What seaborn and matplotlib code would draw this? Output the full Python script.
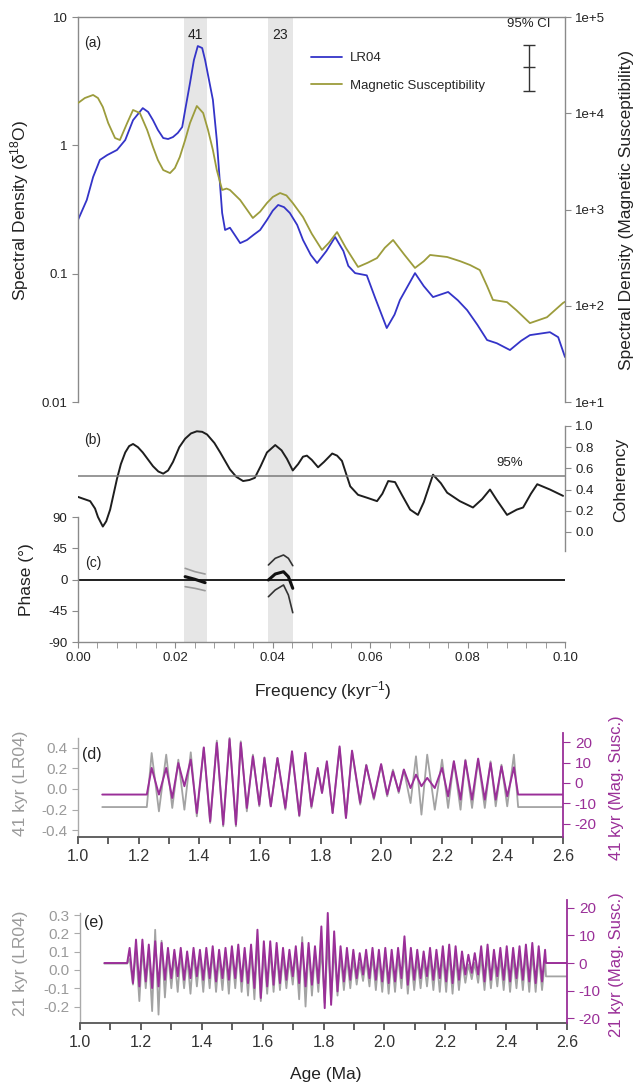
import matplotlib
matplotlib.use("Agg")
import matplotlib.pyplot as plt
from matplotlib.ticker import NullLocator, FixedLocator
import seaborn as sns

sns.set_style("ticks")
plt.rcParams["font.family"] = ["Liberation Sans", "DejaVu Sans"]
plt.rcParams["mathtext.fontset"] = "custom"
plt.rcParams["mathtext.rm"] = "Liberation Sans"
plt.rcParams["mathtext.it"] = "Liberation Sans:italic"
plt.rcParams["mathtext.bf"] = "Liberation Sans:bold"

# ---------------- data: panel (a) spectra ----------------
freq_lr = [0, 0.0018, 0.0031, 0.0045, 0.006, 0.008, 0.0097, 0.0113, 0.0133, 0.0144,
           0.0154, 0.0164, 0.0175, 0.0185, 0.0195, 0.0205, 0.0214, 0.022, 0.023, 0.0238,
           0.0246, 0.0255, 0.0261, 0.0269, 0.0277, 0.0285, 0.0292, 0.0296, 0.0302, 0.0312,
           0.0322, 0.0333, 0.0347, 0.036, 0.0374, 0.0388, 0.040, 0.0411, 0.0423, 0.0435,
           0.045, 0.0462, 0.0478, 0.0491, 0.051, 0.0528, 0.0545, 0.0555, 0.0569, 0.0593,
           0.061, 0.0634, 0.065, 0.0661, 0.0692, 0.071, 0.0729, 0.076, 0.078, 0.0799,
           0.082, 0.084, 0.086, 0.0887, 0.091, 0.0928, 0.0969, 0.0986, 0.1]
psd_lr = [0.262, 0.375, 0.566, 0.77, 0.84, 0.92, 1.10, 1.57, 1.95, 1.82,
          1.57, 1.32, 1.14, 1.12, 1.16, 1.25, 1.39, 1.88, 3.06, 4.62,
          5.94, 5.73, 4.62, 3.23, 2.26, 1.10, 0.473, 0.297, 0.219, 0.228,
          0.20, 0.173, 0.183, 0.20, 0.219, 0.262, 0.31, 0.343, 0.33, 0.297,
          0.24, 0.183, 0.14, 0.121, 0.15, 0.193, 0.15, 0.115, 0.101, 0.097,
          0.065, 0.0377, 0.048, 0.0622, 0.101, 0.08, 0.0657, 0.072, 0.062, 0.052,
          0.04, 0.0304, 0.0287, 0.0254, 0.03, 0.0332, 0.035, 0.032, 0.0224]
freq_ms = [0, 0.0014, 0.0031, 0.0041, 0.0051, 0.0062, 0.0076, 0.0086, 0.0101, 0.0113,
           0.0127, 0.0142, 0.0154, 0.0164, 0.0175, 0.0189, 0.0199, 0.0209, 0.022, 0.023,
           0.0244, 0.0257, 0.0267, 0.0277, 0.0285, 0.0296, 0.0305, 0.0312, 0.0333, 0.0359,
           0.0374, 0.0388, 0.040, 0.0415, 0.0428, 0.0441, 0.0462, 0.048, 0.0501, 0.0515,
           0.0532, 0.055, 0.0575, 0.0595, 0.0614, 0.063, 0.0647, 0.067, 0.0692, 0.071,
           0.0723, 0.0758, 0.0785, 0.0805, 0.0825, 0.084, 0.0852, 0.0881, 0.090, 0.0928,
           0.0963, 0.0996, 0.1]
psd_ms = [12760, 14390, 15490, 14390, 11610, 7920, 5530, 5270, 7920, 10810,
          10060, 6700, 4460, 3270, 2570, 2390, 2700, 3510, 5270, 7920,
          11890, 10060, 6700, 4150, 2570, 1595, 1650, 1595, 1255, 816,
          950, 1168, 1350, 1483, 1400, 1168, 836, 560, 380, 450,
          583, 400, 253, 280, 313, 400, 482, 340, 247, 290,
          337, 321, 290, 265, 235, 160, 115, 109, 90, 66,
          76, 107, 110]
ci_freq = [0.0926]
ci_mid = [4.07]
ci_low = [2.65]
ci_high = [6.05]
bands = [(0.0218, 0.0265), (0.039, 0.0441)]
band_labels = ["41", "23"]

# ---------------- data: panel (b) coherency ----------------
freq_coh = [0, 0.0025, 0.0035, 0.0041, 0.0051, 0.0058, 0.0066, 0.008, 0.0088, 0.0097,
            0.0105, 0.0113, 0.0123, 0.0133, 0.0154, 0.0165, 0.0175, 0.0185, 0.0195, 0.0208,
            0.022, 0.0232, 0.0244, 0.0255, 0.0265, 0.028, 0.0292, 0.0312, 0.0325, 0.0339,
            0.0352, 0.0363, 0.0375, 0.0388, 0.0405, 0.0418, 0.0429, 0.0441, 0.0452, 0.0462,
            0.047, 0.048, 0.0493, 0.0505, 0.0522, 0.0532, 0.0542, 0.0559, 0.0575, 0.0595,
            0.0614, 0.0625, 0.0637, 0.0651, 0.0665, 0.0682, 0.0698, 0.071, 0.0729, 0.0745,
            0.0758, 0.0784, 0.0811, 0.083, 0.0846, 0.086, 0.0881, 0.0901, 0.0914, 0.093,
            0.0943, 0.0969, 0.0996]
coh = [0.33, 0.29, 0.22, 0.14, 0.05, 0.10, 0.21, 0.50, 0.64, 0.75,
       0.81, 0.83, 0.80, 0.75, 0.62, 0.57, 0.55, 0.58, 0.66, 0.80,
       0.88, 0.93, 0.95, 0.945, 0.92, 0.84, 0.75, 0.59, 0.52, 0.48,
       0.49, 0.51, 0.62, 0.75, 0.82, 0.77, 0.69, 0.58, 0.64, 0.71,
       0.72, 0.68, 0.61, 0.66, 0.74, 0.72, 0.67, 0.43, 0.35, 0.32,
       0.29, 0.36, 0.48, 0.47, 0.35, 0.21, 0.16, 0.28, 0.54, 0.46,
       0.37, 0.29, 0.23, 0.31, 0.40, 0.30, 0.16, 0.21, 0.23, 0.36,
       0.45, 0.40, 0.34]
coh_95 = 0.53

# ---------------- data: panel (c) phase ----------------
ph41_freq = [0.022, 0.024, 0.0261]
ph41_mid = [4.1, 0.3, -4.6]
ph41_up = [16.1, 11.3, 7.9]
ph41_lo = [-10.3, -12.7, -16.1]
ph23_freq = [0.0391, 0.0405, 0.0422, 0.0432, 0.0441]
ph23_mid = [-0.7, 7.9, 11.2, 4.0, -12.7]
ph23_up = [20.9, 30.5, 35.3, 30.5, 19.9]
ph23_lo = [-24.8, -15.1, -7.9, -22.3, -47.8]

# ---------------- data: panel (d) 41 kyr filters ----------------
age_d = [1.08, 1.227,
         1.243, 1.267, 1.291, 1.311, 1.331, 1.351, 1.372, 1.392, 1.415, 1.436,
         1.458, 1.479, 1.500, 1.521, 1.537, 1.557, 1.577, 1.598, 1.615, 1.636,
         1.658, 1.684, 1.706, 1.730, 1.750, 1.770, 1.791, 1.805, 1.821, 1.840,
         1.863, 1.884, 1.904, 1.931, 1.951, 1.976, 2.000, 2.020, 2.039, 2.058,
         2.075, 2.097, 2.115, 2.133, 2.152, 2.177, 2.201, 2.221, 2.240, 2.262,
         2.278, 2.300, 2.320, 2.342, 2.361, 2.378, 2.397, 2.416, 2.438,
         2.452, 2.60]
lr_d = [-0.176, -0.176,
        0.351, -0.218, 0.335, -0.185, 0.286, -0.202, 0.358, -0.267, 0.40, -0.332,
        0.472, -0.364, 0.498, -0.364, 0.465, -0.218, 0.335, -0.169, 0.309, -0.169,
        0.302, -0.202, 0.351, -0.267, 0.335, -0.185, 0.189, -0.039, 0.254, -0.234,
        0.40, -0.283, 0.367, -0.153, 0.237, -0.104, 0.237, -0.072, 0.189, -0.039,
        0.189, -0.137, 0.319, -0.25, 0.335, -0.202, 0.286, -0.185, 0.27, -0.202,
        0.286, -0.185, 0.286, -0.185, 0.27, -0.169, 0.237, -0.169, 0.335,
        -0.176, -0.176]
ms_d = [-5.7, -5.7,
        7.4, -5.7, 7.4, -7.4, 9.8, -1.6, 11.5, -14.8, 17.5, -18.9,
        19.7, -20.5, 21.6, -20.5, 19.7, -12.3, 13.1, -10.7, 12.3, -11.5,
        12.3, -12.3, 15.6, -15.9, 14.8, -11.5, 7.4, -4.9, 10.7, -14.8,
        18.0, -17.2, 15.9, -9.8, 8.7, -7.4, 9.3, -5.7, 5.7, -4.1,
        6.6, -2.5, 4.1, -1.6, 2.5, -2.5, 7.4, -6.6, 10.7, -8.2,
        11.0, -8.2, 12.0, -8.2, 9.8, -8.2, 8.2, -6.6, 7.7,
        -5.7, -5.7]

# ---------------- data: panel (e) 21 kyr filters ----------------
age_e = [1.08, 1.155,
         1.163, 1.174, 1.184, 1.195, 1.205, 1.216, 1.226, 1.237, 1.247, 1.258,
         1.268, 1.279, 1.289, 1.300, 1.310, 1.321, 1.331, 1.342, 1.352, 1.363,
         1.373, 1.384, 1.394, 1.405, 1.415, 1.426, 1.436, 1.447, 1.457, 1.468,
         1.478, 1.489, 1.499, 1.510, 1.520, 1.531, 1.541, 1.552, 1.562, 1.573,
         1.583, 1.594, 1.604, 1.615, 1.625, 1.636, 1.646, 1.657, 1.667, 1.678,
         1.688, 1.699, 1.709, 1.720, 1.730, 1.741, 1.751, 1.762, 1.772, 1.783,
         1.793, 1.804, 1.814, 1.825, 1.835, 1.846, 1.856, 1.867, 1.877, 1.888,
         1.898, 1.909, 1.919, 1.930, 1.940, 1.951, 1.961, 1.972, 1.982, 1.993,
         2.003, 2.014, 2.024, 2.035, 2.045, 2.056, 2.066, 2.077, 2.087, 2.098,
         2.108, 2.119, 2.129, 2.140, 2.150, 2.161, 2.171, 2.182, 2.192, 2.203,
         2.213, 2.224, 2.234, 2.245, 2.255, 2.266, 2.276, 2.287, 2.297, 2.308,
         2.318, 2.329, 2.339, 2.350, 2.360, 2.371, 2.381, 2.392, 2.402, 2.413,
         2.423, 2.434, 2.444, 2.455, 2.465, 2.476, 2.486, 2.497, 2.507, 2.518,
         2.528, 2.531, 2.60]
lr_e = [0.035, 0.035,
        0.06, -0.08, 0.11, -0.17, 0.12, -0.10, 0.10, -0.225, 0.22, -0.244,
        0.16, -0.15, 0.10, -0.10, 0.08, -0.12, 0.09, -0.10, 0.07, -0.13,
        0.09, -0.09, 0.08, -0.12, 0.09, -0.10, 0.10, -0.12, 0.07, -0.11,
        0.09, -0.13, 0.10, -0.10, 0.11, -0.12, 0.09, -0.14, 0.11, -0.16,
        0.15, -0.17, 0.10, -0.13, 0.11, -0.12, 0.10, -0.11, 0.08, -0.10,
        0.06, -0.08, 0.10, -0.16, 0.18, -0.20, 0.12, -0.14, 0.09, -0.12,
        0.12, -0.18, 0.16, -0.17, 0.12, -0.14, 0.08, -0.11, 0.07, -0.10,
        0.06, -0.08, 0.04, -0.06, 0.06, -0.09, 0.08, -0.11, 0.07, -0.12,
        0.08, -0.13, 0.07, -0.12, 0.08, -0.10, 0.11, -0.13, 0.07, -0.11,
        0.06, -0.10, 0.06, -0.09, 0.07, -0.11, 0.07, -0.12, 0.08, -0.12,
        0.09, -0.13, 0.08, -0.11, 0.05, -0.07, 0.03, -0.05, 0.04, -0.07,
        0.07, -0.11, 0.08, -0.10, 0.06, -0.09, 0.07, -0.11, 0.08, -0.12,
        0.07, -0.10, 0.08, -0.11, 0.09, -0.12, 0.09, -0.12, 0.08, -0.11,
        0.06, -0.035, -0.035]
ms_e = [0.0, 0.0,
        5.5, -7.3, 8.5, -8.5, 8.5, -6.7, 6.7, -9.1, 7.9, -8.5,
        7.3, -6.1, 5.5, -5.5, 4.8, -4.8, 5.5, -6.1, 4.2, -5.5,
        5.5, -4.8, 4.8, -6.1, 5.5, -5.5, 6.1, -6.7, 4.8, -5.5,
        5.5, -6.1, 6.1, -5.5, 6.7, -6.7, 5.5, -7.3, 6.7, -9.1,
        12.1, -12.7, 7.9, -8.5, 7.9, -7.9, 7.3, -7.3, 5.5, -6.1,
        4.8, -4.8, 6.1, -7.3, 7.3, -8.5, 7.3, -7.9, 6.1, -7.3,
        13.3, -16.4, 18.2, -15.2, 11.5, -10.3, 6.1, -6.7, 5.5, -6.1,
        4.8, -5.5, 3.6, -4.2, 4.8, -5.5, 5.5, -6.1, 4.8, -6.7,
        5.5, -7.3, 4.8, -6.7, 5.5, -5.5, 9.7, -7.9, 5.5, -6.1,
        4.8, -5.5, 4.2, -4.8, 5.5, -6.1, 4.8, -5.5, 6.1, -6.7,
        6.7, -7.3, 6.1, -6.1, 4.2, -4.2, 3.0, -3.6, 3.6, -4.2,
        6.1, -6.7, 6.7, -6.1, 4.8, -4.8, 5.5, -6.1, 6.1, -6.7,
        5.5, -5.5, 6.1, -6.1, 6.7, -6.7, 7.3, -7.3, 6.1, -6.7,
        4.8, 0.0, 0.0]

# ---------------- styling ----------------
BLUE = "#3434c8"
OLIVE = "#9c9c3c"
PURPLE = "#9a2f98"
GREYLINE = "#a3a3a3"
BAND = "#e6e6e6"
AXC = "#8a8a8a"
TXT = "#222222"
W, H = 636, 1086


def rect(x0, y0, x1, y1):
    return [x0 / W, 1 - y1 / H, (x1 - x0) / W, (y1 - y0) / H]


def ftext(x, y, s, **kw):
    kw.setdefault("ha", "center")
    kw.setdefault("va", "center")
    kw.setdefault("color", TXT)
    fig.text(x / W, 1 - y / H, s, **kw)


def only_spines(ax, keep, color=AXC):
    for k, sp in ax.spines.items():
        sp.set_visible(k in keep)
        sp.set_color(color)
        sp.set_linewidth(1.0)


fig = plt.figure(figsize=(W / 100, H / 100), dpi=100)
fig.patch.set_facecolor("white")

# shaded bands spanning panels a-c
bg = fig.add_axes(rect(78, 17, 565, 642))
bg.set_xlim(0, 0.1)
bg.set_ylim(0, 1)
bg.axis("off")
for lo, hi in bands:
    bg.axvspan(lo, hi, color=BAND, lw=0)

# ---------------- panel (a) ----------------
axa = fig.add_axes(rect(78, 17, 565, 402), facecolor="none")
sns.lineplot(x=freq_lr, y=psd_lr, ax=axa, color=BLUE, lw=1.3)
axa.set_yscale("log")
axa.set_xlim(0, 0.1)
axa.set_ylim(0.01, 10)
axa.set_yticks([0.01, 0.1, 1, 10])
axa.set_yticklabels(["0.01", "0.1", "1", "10"])
axa.yaxis.set_minor_locator(NullLocator())
axa.tick_params(axis="x", bottom=False, labelbottom=False)
axa.tick_params(axis="y", direction="out", length=4, color=AXC, labelsize=9.5, labelcolor=TXT)
only_spines(axa, ["left", "top"])
axa.set_xlabel("")
axa.set_ylabel("")

axa2 = axa.twinx()
sns.lineplot(x=freq_ms, y=psd_ms, ax=axa2, color=OLIVE, lw=1.3)
axa2.set_yscale("log")
axa2.set_ylim(10, 1e5)
axa2.set_yticks([10, 100, 1000, 1e4, 1e5])
axa2.set_yticklabels(["1e+1", "1e+2", "1e+3", "1e+4", "1e+5"])
axa2.yaxis.set_minor_locator(NullLocator())
axa2.tick_params(axis="y", direction="out", length=4, color=AXC, labelsize=9.5, labelcolor=TXT)
only_spines(axa2, ["right"])
axa2.set_ylabel("")

axa.errorbar(ci_freq, ci_mid,
             yerr=[[ci_mid[0] - ci_low[0]], [ci_high[0] - ci_mid[0]]],
             fmt="_", color="#333333", ms=8, capsize=4, elinewidth=1, capthick=1)
axa.text(ci_freq[0], 7.9, "95% CI", ha="center", va="bottom", fontsize=9.5, color=TXT)

axa.legend([axa.lines[0], axa2.lines[0]], ["LR04", "Magnetic Susceptibility"],
           loc="upper left", bbox_to_anchor=(0.455, 0.94), frameon=False,
           fontsize=9.5, handlelength=2.3, labelspacing=1.15, handletextpad=0.6)

for (lo, hi), lab in zip(bands, band_labels):
    axa.text((lo + hi) / 2, 7.3, lab, ha="center", va="center", fontsize=10, color=TXT)
ftext(93, 43, "(a)", fontsize=10)

# ---------------- panel (b) ----------------
axb = fig.add_axes(rect(78, 426, 565, 551), facecolor="none")
sns.lineplot(x=freq_coh, y=coh, ax=axb, color="#1e1e1e", lw=1.4)
axb.axhline(coh_95, color="#7a7a7a", lw=1.1)
axb.set_xlim(0, 0.1)
axb.set_ylim(-0.181, 1.0)
axb.yaxis.tick_right()
axb.set_yticks([0, 0.2, 0.4, 0.6, 0.8, 1.0])
axb.set_yticklabels(["0.0", "0.2", "0.4", "0.6", "0.8", "1.0"])
axb.tick_params(axis="x", bottom=False, labelbottom=False)
axb.tick_params(axis="y", direction="out", length=4, color=AXC, labelsize=9.5, labelcolor=TXT)
only_spines(axb, ["right"])
axb.set_xlabel("")
axb.set_ylabel("")
ftext(510, 463, "95%", fontsize=9.5)
ftext(93, 440, "(b)", fontsize=10)

# ---------------- panel (c) ----------------
axc = fig.add_axes(rect(78, 517, 565, 642), facecolor="none")
axc.axhline(0, color="#1e1e1e", lw=1.4)
sns.lineplot(x=ph41_freq, y=ph41_up, ax=axc, color="#9a9a9a", lw=1.2)
sns.lineplot(x=ph41_freq, y=ph41_lo, ax=axc, color="#9a9a9a", lw=1.2)
sns.lineplot(x=ph41_freq, y=ph41_mid, ax=axc, color="#111111", lw=2.2)
sns.lineplot(x=ph23_freq, y=ph23_up, ax=axc, color="#333333", lw=1.2)
sns.lineplot(x=ph23_freq, y=ph23_lo, ax=axc, color="#333333", lw=1.2)
sns.lineplot(x=ph23_freq, y=ph23_mid, ax=axc, color="#111111", lw=2.2)
axc.set_xlim(0, 0.1)
axc.set_ylim(-90, 90)
axc.set_yticks([-90, -45, 0, 45, 90])
axc.set_yticklabels(["-90", "-45", "0", "45", "90"])
axc.set_xticks([0, 0.02, 0.04, 0.06, 0.08, 0.10])
axc.set_xticklabels(["0.00", "0.02", "0.04", "0.06", "0.08", "0.10"])
axc.xaxis.set_minor_locator(FixedLocator([i * 0.004 for i in range(26)]))
axc.tick_params(axis="both", which="both", direction="out", length=4, color=AXC,
                labelsize=9.5, labelcolor=TXT)
only_spines(axc, ["left", "bottom"])
axc.set_xlabel("")
axc.set_ylabel("")
ftext(93, 563, "(c)", fontsize=10)

# axis titles upper part
ftext(20, 210, "Spectral Density (δ$^{18}$O)", rotation=90, fontsize=12.5)
ftext(626, 210, "Spectral Density (Magnetic Susceptibility)", rotation=90, fontsize=12.5)
ftext(621, 480, "Coherency", rotation=90, fontsize=12.5)
ftext(27, 580, "Phase (°)", rotation=90, fontsize=12.5)
ftext(323, 691, "Frequency (kyr$^{-1}$)", fontsize=12.5)


# ---------------- panels (d), (e) ----------------
def filt_panel(box, ages, lr, ms, lylim, rylim, lticks, llabels, rticks, ltop, lab, llab, rlab, ly, ry):
    ax = fig.add_axes(rect(*box), facecolor="none")
    sns.lineplot(x=ages, y=lr, ax=ax, color=GREYLINE, lw=1.3)
    ax.set_xlim(1.0, 2.6)
    ax.set_ylim(*lylim)
    ax.set_yticks(lticks)
    ax.set_yticklabels(llabels)
    ax.set_xticks([1.0, 1.2, 1.4, 1.6, 1.8, 2.0, 2.2, 2.4, 2.6])
    ax.set_xticklabels(["1.0", "1.2", "1.4", "1.6", "1.8", "2.0", "2.2", "2.4", "2.6"])
    ax.xaxis.set_minor_locator(FixedLocator([1.1, 1.3, 1.5, 1.7, 1.9, 2.1, 2.3, 2.5]))
    ax.tick_params(axis="x", which="both", direction="out", length=5, width=1.2,
                   color="#444444", labelsize=11.5, labelcolor="#333333")
    ax.tick_params(axis="y", direction="out", length=4, color="#aaaaaa",
                   labelsize=11, labelcolor="#9a9a9a")
    only_spines(ax, ["left", "bottom"], "#aaaaaa")
    ax.spines["bottom"].set_color("#555555")
    ax.spines["bottom"].set_linewidth(1.3)
    ax.spines["left"].set_bounds(lylim[0], ltop)
    ax.set_xlabel("")
    ax.set_ylabel("")
    ax2 = ax.twinx()
    sns.lineplot(x=ages, y=ms, ax=ax2, color=PURPLE, lw=1.4)
    ax2.set_ylim(*rylim)
    ax2.set_yticks(rticks)
    ax2.set_yticklabels([str(t) for t in rticks])
    ax2.tick_params(axis="y", direction="out", length=5, color=PURPLE,
                    labelsize=11, labelcolor=PURPLE)
    only_spines(ax2, ["right"], PURPLE)
    ax2.spines["right"].set_linewidth(1.3)
    ax2.set_ylabel("")
    x0, y0 = box[0], box[1]
    ftext(x0 + 14, y0 + 22, lab, fontsize=11.5)
    ftext(21, ly, llab, rotation=90, fontsize=12.5, color="#9a9a9a")
    ftext(616, ry, rlab, rotation=90, fontsize=12, color=PURPLE)
    return ax


filt_panel((78, 733, 563, 837), age_d, lr_d, ms_d, (-0.468, 0.546), (-26.6, 24.6),
           [-0.4, -0.2, 0.0, 0.2, 0.4], ["-0.4", "-0.2", "0.0", "0.2", "0.4"],
           [-20, -10, 0, 10, 20], 0.5, "(d)", "41 kyr (LR04)", "41 kyr (Mag. Susc.)", 783, 788)

filt_panel((80, 900, 567, 1023), age_e, lr_e, ms_e, (-0.29, 0.383), (-21.8, 22.9),
           [-0.2, -0.1, 0.0, 0.1, 0.2, 0.3], ["-0.2", "-0.1", "0.0", "0.1", "0.2", "0.3"],
           [-20, -10, 0, 10, 20], 0.31, "(e)", "21 kyr (LR04)", "21 kyr (Mag. Susc.)", 963, 965)

ftext(326, 1074, "Age (Ma)", fontsize=12.5)

fig.savefig("out.png", dpi=100)
